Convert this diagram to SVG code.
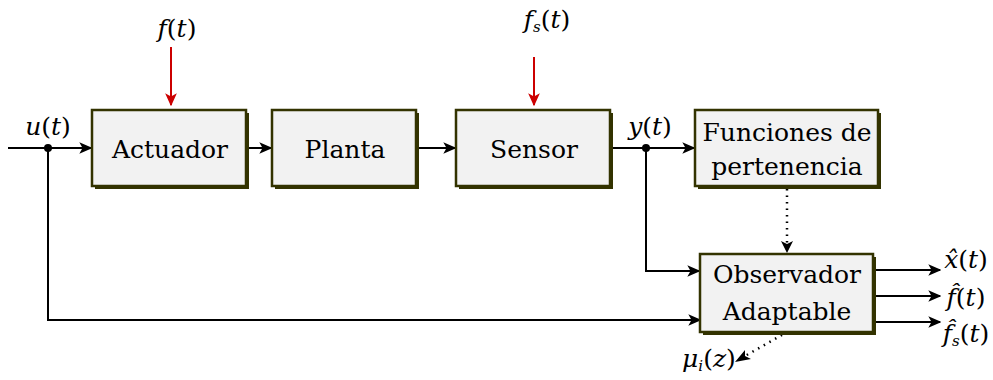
<svg xmlns="http://www.w3.org/2000/svg" width="993" height="380" viewBox="0 0 993 380">
<style>
.box{fill:#f2f2f2;stroke:#333300;stroke-width:2.5}
.sh{fill:#333300}
.t{font-family:"DejaVu Serif",serif;font-size:25px;fill:#000;text-anchor:middle}
.m{font-family:"DejaVu Serif",serif;font-size:25px;font-style:italic;fill:#000;text-anchor:middle}
.ln{fill:none;stroke:#000;stroke-width:2}
.dt{fill:none;stroke:#000;stroke-width:2.5;stroke-dasharray:1.5 5}
.red{fill:none;stroke:#cc0000;stroke-width:2}
</style>
<defs>
<marker id="a" viewBox="0 0 10 10" refX="9" refY="5" markerWidth="13" markerHeight="13" markerUnits="userSpaceOnUse" orient="auto"><path d="M0,0.5 L10,5 L0,9.5 L2.5,5 Z" fill="#000"/></marker>
<marker id="ar" viewBox="0 0 10 10" refX="9" refY="5" markerWidth="13" markerHeight="13" markerUnits="userSpaceOnUse" orient="auto"><path d="M0,0.5 L10,5 L0,9.5 L2.5,5 Z" fill="#cc0000"/></marker>
</defs>
<g id="connectors">
<path class="ln" d="M8,148 H91" marker-end="url(#a)"/>
<path class="ln" d="M48,148 V320 H700" marker-end="url(#a)"/>
<path class="ln" d="M247,148 H271" marker-end="url(#a)"/>
<path class="ln" d="M417,148 H455" marker-end="url(#a)"/>
<path class="ln" d="M611,148 H694" marker-end="url(#a)"/>
<path class="ln" d="M646,148 V271 H699" marker-end="url(#a)"/>
<path class="dt" d="M787,189 V246"/>
<path d="M781,241 L787,253 L793,241 L787,244 Z" fill="#000"/>
<path class="ln" d="M875,270 H940" marker-end="url(#a)"/>
<path class="ln" d="M875,296 H940" marker-end="url(#a)"/>
<path class="ln" d="M875,322 H940" marker-end="url(#a)"/>
<path class="dt" d="M782,335 L745,356"/>
<path d="M735,362 L745,350 L745,356 L751,359 Z" fill="#000"/>
<path class="red" d="M171,47 V105" marker-end="url(#ar)"/>
<path class="red" d="M534,57 V105" marker-end="url(#ar)"/>
<circle cx="48" cy="148" r="4" fill="#000"/>
<circle cx="646" cy="148" r="4" fill="#000"/>
</g>
<g id="actuador">
<rect class="sh" x="95" y="113" width="154" height="76"/>
<rect class="box" x="92" y="110" width="154" height="76"/>
<text class="t" x="170" y="158">Actuador</text>
</g>
<g id="planta">
<rect class="sh" x="275" y="113" width="144" height="76"/>
<rect class="box" x="272" y="110" width="144" height="76"/>
<text class="t" x="345" y="158">Planta</text>
</g>
<g id="sensor">
<rect class="sh" x="459" y="113" width="154" height="76"/>
<rect class="box" x="456" y="110" width="154" height="76"/>
<text class="t" x="534" y="158">Sensor</text>
</g>
<g id="funciones">
<rect class="sh" x="698" y="113" width="183" height="76"/>
<rect class="box" x="695" y="110" width="183" height="76"/>
<text class="t" x="787" y="141">Funciones de</text>
<text class="t" x="787" y="175">pertenencia</text>
</g>
<g id="observador">
<rect class="sh" x="703" y="257" width="173" height="78"/>
<rect class="box" x="700" y="254" width="173" height="78"/>
<text class="t" x="787" y="283">Observador</text>
<text class="t" x="787" y="320">Adaptable</text>
</g>
<g id="labels">
<text class="m" x="48" y="135">u<tspan font-style="normal">(</tspan>t<tspan font-style="normal">)</tspan></text>
<text class="m" x="177" y="37">f<tspan font-style="normal">(</tspan>t<tspan font-style="normal">)</tspan></text>
<text class="m" x="547" y="28">f<tspan font-size="15" dy="4">s</tspan><tspan font-style="normal" dy="-4">(</tspan>t<tspan font-style="normal">)</tspan></text>
<text class="m" x="650" y="135">y<tspan font-style="normal">(</tspan>t<tspan font-style="normal">)</tspan></text>
<text class="m" x="966" y="268">x̂<tspan font-style="normal">(</tspan>t<tspan font-style="normal">)</tspan></text>
<text class="m" x="966" y="306">f̂<tspan font-style="normal">(</tspan>t<tspan font-style="normal">)</tspan></text>
<text class="m" x="966" y="342">f̂<tspan font-size="15" dy="4">s</tspan><tspan font-style="normal" dy="-4">(</tspan>t<tspan font-style="normal">)</tspan></text>
<text class="m" x="709" y="367">μ<tspan font-size="15" dy="4">i</tspan><tspan font-style="normal" dy="-4">(</tspan>z<tspan font-style="normal">)</tspan></text>
</g>
</svg>
